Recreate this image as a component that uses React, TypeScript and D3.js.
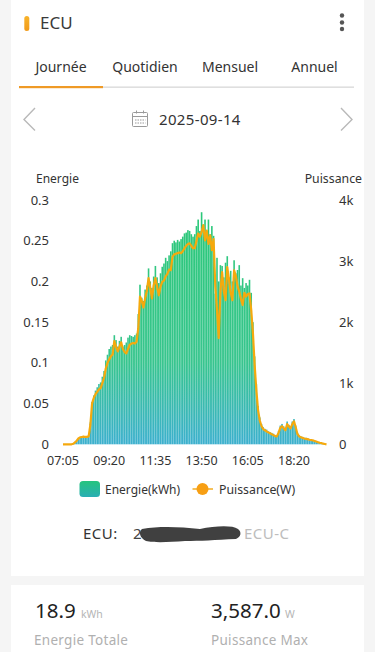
import React from "react";
import { scaleLinear, line as d3line, curveLinear } from "d3";

const tabs = ["Journée", "Quotidien", "Mensuel", "Annuel"];
const energyTicks = [0, 0.05, 0.1, 0.15, 0.2, 0.25, 0.3];
const energyTickLabels = ["0", "0.05", "0.1", "0.15", "0.2", "0.25", "0.3"];
const powerTicks = [0, 1000, 2000, 3000, 4000];
const powerTickLabels = ["0", "1k", "2k", "3k", "4k"];
const timeTicks = ["07:05", "09:20", "11:35", "13:50", "16:05", "18:20"];

const energy = [
  0, 0, 0, 0, 0, 0, 0.001, 0.003, 0.005, 0.007, 0.009, 0.01, 0.01, 0.01, 0.01, 0.011,
  0.027, 0.052, 0.06, 0.066, 0.07, 0.074, 0.076, 0.083, 0.09, 0.103, 0.11, 0.117, 0.12, 0.122,
  0.134, 0.128, 0.12, 0.127, 0.132, 0.12, 0.122, 0.125, 0.131, 0.134, 0.133, 0.132, 0.134, 0.136,
  0.16, 0.196, 0.18, 0.176, 0.19, 0.195, 0.216, 0.2, 0.192, 0.206, 0.219, 0.205, 0.198, 0.21,
  0.218, 0.222, 0.229, 0.225, 0.232, 0.237, 0.247, 0.25, 0.248, 0.251, 0.249, 0.252, 0.255, 0.259,
  0.26, 0.263, 0.262, 0.258, 0.255, 0.258, 0.268, 0.276, 0.262, 0.285, 0.27, 0.276, 0.262, 0.276,
  0.258, 0.268, 0.256, 0.185, 0.229, 0.2, 0.22, 0.219, 0.205, 0.223, 0.231, 0.205, 0.213, 0.2,
  0.226, 0.21, 0.214, 0.22, 0.195, 0.204, 0.192, 0.198, 0.195, 0.202, 0.186, 0.15, 0.108, 0.074,
  0.047, 0.033, 0.025, 0.021, 0.019, 0.018, 0.016, 0.015, 0.014, 0.013, 0.011, 0.011, 0.016, 0.023,
  0.025, 0.022, 0.019, 0.028, 0.024, 0.022, 0.028, 0.031, 0.023, 0.014, 0.011, 0.01, 0.009, 0.008,
  0.008, 0.007, 0.006, 0.006, 0.005, 0.005, 0.004, 0.003, 0.002, 0.002, 0.001, 0, 0,
];

const power = [
  0, 0, 0, 0, 0, 0, 8, 30, 60, 95, 115, 120, 125, 120, 122, 130,
  320, 670, 760, 820, 860, 900, 920, 1000, 1090, 1240, 1330, 1390, 1440, 1470,
  1690, 1600, 1520, 1600, 1670, 1560, 1510, 1490, 1560, 1630, 1650, 1660, 1650, 1680,
  1900, 2420, 2350, 2240, 2390, 2510, 2720, 2560, 2390, 2600, 2720, 2580, 2440, 2580,
  2660, 2680, 2750, 2790, 2860, 2850, 3070, 3110, 3120, 3130, 3140, 3130, 3160, 3210,
  3250, 3280, 3290, 3250, 3210, 3210, 3330, 3450, 3400, 3480, 3587, 3340, 3500, 3280,
  3420, 3180, 3360, 2600, 2200, 1740, 2500, 2820, 2500, 2360, 2900, 2700, 2480, 2360,
  2850, 2760, 2590, 2500, 2380, 2280, 2480, 2420, 2460, 2470, 2200, 1820, 1300, 885,
  560, 390, 300, 250, 230, 210, 195, 180, 165, 150, 135, 130, 190, 270,
  295, 260, 230, 330, 290, 260, 330, 375, 280, 170, 130, 115, 105, 95,
  90, 85, 75, 70, 65, 55, 45, 35, 25, 20, 10, 5, 0,
];

const FONT = "'Noto Sans', 'Open Sans', sans-serif";
const TICK_EVERY = 27;

export default function App() {
  const x = scaleLinear().domain([0, 154]).range([63, 326.5]);
  const yE = scaleLinear().domain([0, 0.3]).range([444.3, 200]);
  const yP = scaleLinear().domain([0, 4000]).range([444.3, 200]);
  const path = d3line<number>()
    .x((_, i) => x(i))
    .y((d) => yP(d))
    .curve(curveLinear)(power) as string;

  const tabX = [61, 145, 230, 314.5];

  return (
    <svg
      width={375}
      height={652}
      viewBox="0 0 375 652"
      style={{ position: "fixed", left: 0, top: 0, display: "block" }}
      fontFamily={FONT}
    >
      <defs>
        <linearGradient id="barGrad" gradientUnits="userSpaceOnUse" x1="0" x2="0" y1="210" y2="444">
          <stop offset="0" stopColor="#2bc878" />
          <stop offset="0.65" stopColor="#38c58e" />
          <stop offset="1" stopColor="#3cb0ce" />
        </linearGradient>
        <linearGradient id="legendGrad" x1="0" x2="0" y1="0" y2="1">
          <stop offset="0" stopColor="#25c47e" />
          <stop offset="1" stopColor="#2aaeb4" />
        </linearGradient>
        <linearGradient id="pill" x1="0" x2="0" y1="0" y2="1">
          <stop offset="0" stopColor="#f8b32a" />
          <stop offset="1" stopColor="#f09a1a" />
        </linearGradient>
        <filter id="soft" x="-5%" y="-5%" width="110%" height="110%">
          <feGaussianBlur stdDeviation="0.2" />
        </filter>
      </defs>

      <rect x={0} y={0} width={375} height={652} fill="#f5f5f5" />
      <rect x={11} y={-4} width={353} height={580} fill="#ffffff" />
      <rect x={11} y={585} width={353} height={70} fill="#ffffff" />

      {/* header */}
      <rect x={24.3} y={16} width={5} height={15} rx={2.5} fill="url(#pill)" />
      <text x={40} y={29} fontSize={17} fill="#3a3a3a">ECU</text>
      {[15.5, 22.5, 29].map((cy) => (
        <circle key={cy} cx={342} cy={cy} r={2.2} fill="#555" />
      ))}

      {/* tabs */}
      {tabs.map((t, i) => (
        <text key={t} x={tabX[i]} y={72} fontSize={14} fill="#333" textAnchor="middle">{t}</text>
      ))}
      <rect x={19} y={86.5} width={335} height={1.3} fill="#d8d8d8" />
      <rect x={19} y={86} width={84} height={2.2} fill="#ef9a26" />

      {/* date row */}
      <path d="M35 108 L24 119.5 L35 130.5" fill="none" stroke="#b9b9b9" strokeWidth={1.4} />
      <path d="M341 108 L352 119.5 L341 130.5" fill="none" stroke="#b9b9b9" strokeWidth={1.4} />
      <g stroke="#9a9a9a" fill="none" strokeWidth={1}>
        <rect x={132.5} y={112.5} width={15} height={14} rx={1} />
        <line x1={132.5} x2={147.5} y1={116.5} y2={116.5} />
        <line x1={136.5} x2={136.5} y1={110.5} y2={113.5} />
        <line x1={143.5} x2={143.5} y1={110.5} y2={113.5} />
        <line x1={135} x2={145.5} y1={120} y2={120} strokeDasharray="1.5 1" />
        <line x1={135} x2={145.5} y1={123} y2={123} strokeDasharray="1.5 1" />
      </g>
      <text x={159} y={125} fontSize={15} letterSpacing={0.35} fill="#333">2025-09-14</text>

      {/* axis titles */}
      <text x={36} y={183} fontSize={12} fill="#333">Energie</text>
      <text x={362} y={183} fontSize={12.3} fill="#333" textAnchor="end">Puissance</text>

      {/* energy bars */}
      <g filter="url(#soft)">
        {energy.map((d, i) =>
          d > 0 ? (
            <rect
              key={i}
              x={x(i) - 0.8}
              y={yE(d)}
              width={1.6}
              height={yE(0) - yE(d)}
              fill="url(#barGrad)"
            />
          ) : null
        )}
      </g>

      {/* power line */}
      <path d={path} fill="none" stroke="#f5a90e" strokeWidth={2.2} strokeLinejoin="round" filter="url(#soft)" />

      {/* y ticks */}
      {energyTicks.map((t, i) => (
        <text key={t} x={49} y={yE(t) + 4.5} fontSize={13} fill="#333" textAnchor="end">
          {energyTickLabels[i]}
        </text>
      ))}
      {powerTicks.map((t, i) => (
        <text key={t} x={339} y={yP(t) + 4.5} fontSize={13} fill="#333">
          {powerTickLabels[i]}
        </text>
      ))}

      {/* x ticks */}
      {timeTicks.map((t, i) => (
        <text key={t} x={x(i * TICK_EVERY)} y={465} fontSize={12.5} fill="#333" textAnchor="middle">
          {t}
        </text>
      ))}

      {/* legend */}
      <rect x={79.5} y={481} width={20.5} height={16} rx={3.5} fill="url(#legendGrad)" />
      <text x={105} y={493.5} fontSize={12} fill="#333">Energie(kWh)</text>
      <line x1={192.5} x2={213} y1={489} y2={489} stroke="#f3a712" strokeWidth={1.4} />
      <circle cx={202.5} cy={489} r={6} fill="#f79f14" />
      <text x={219} y={493.5} fontSize={12.3} fill="#333">Puissance(W)</text>

      {/* ECU line */}
      <text x={83} y={539} fontSize={15} letterSpacing={0.5} fill="#333">ECU:</text>
      <text x={133} y={539} fontSize={15} fill="#444">2</text>
      <path
        d="M142 529 C160 526 180 527 200 529 C215 526 232 525 238 529 C242 532 241 537 236 539 C215 540 200 541 185 541 C170 542 155 543 146 541 C140 538 138 532 142 529 Z"
        fill="#404040"
      />
      <text x={244} y={539} fontSize={15} letterSpacing={0.5} fill="#bdbdbd">ECU-C</text>

      {/* summary card */}
      <text x={35} y={618} fontSize={20.5} fill="#222">18.9</text>
      <text x={81} y={618} fontSize={10.5} fill="#b5b5b5">kWh</text>
      <text x={211} y={618} fontSize={20.5} fill="#222">3,587.0</text>
      <text x={285} y={618} fontSize={10.5} fill="#b5b5b5">W</text>
      <text x={34} y={645} fontSize={13.5} letterSpacing={0.3} fill="#b0b0b0">Energie Totale</text>
      <text x={211} y={645} fontSize={13.5} letterSpacing={0.3} fill="#b0b0b0">Puissance Max</text>
    </svg>
  );
}
